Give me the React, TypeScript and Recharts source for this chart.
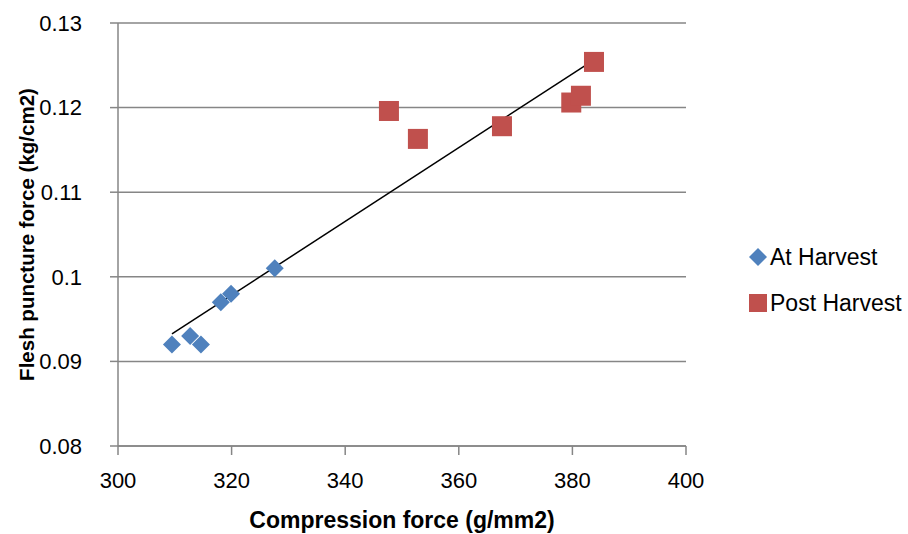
import { ScatterChart, Scatter, XAxis, YAxis, CartesianGrid, ReferenceLine } from 'recharts'

const atHarvestX = [309.5, 312.7, 314.6, 318.1, 319.9, 327.6]
const atHarvestY = [0.092, 0.093, 0.092, 0.097, 0.098, 0.101]
const postHarvestX = [347.7, 352.8, 367.6, 379.8, 381.5, 383.8]
const postHarvestY = [0.1196, 0.1163, 0.1178, 0.1206, 0.1214, 0.1254]
const xTicks = [300, 320, 340, 360, 380, 400]
const yTicks = [0.08, 0.09, 0.1, 0.11, 0.12, 0.13]

const BLUE = '#4F81BD'
const RED = '#C0504D'
const GRID = '#868686'
const FONT = '"Liberation Sans", Arial, sans-serif'

const atHarvest = atHarvestX.map((x, i) => ({ x, y: atHarvestY[i] }))
const postHarvest = postHarvestX.map((x, i) => ({ x, y: postHarvestY[i] }))

// linear trend over all points
const all = [...atHarvest, ...postHarvest]
const n = all.length
const mx = all.reduce((s, p) => s + p.x, 0) / n
const my = all.reduce((s, p) => s + p.y, 0) / n
const slope =
  all.reduce((s, p) => s + (p.x - mx) * (p.y - my), 0) / all.reduce((s, p) => s + (p.x - mx) ** 2, 0)
const xMin = Math.min(...all.map((p) => p.x))
const xMax = Math.max(...all.map((p) => p.x))
const trend = (x: number) => my + slope * (x - mx)

function Diamond({ cx, cy }: any) {
  const r = 9
  return <polygon points={`${cx},${cy - r} ${cx + r},${cy} ${cx},${cy + r} ${cx - r},${cy}`} fill={BLUE} />
}

function Square({ cx, cy }: any) {
  const h = 10
  return <rect x={cx - h} y={cy - h} width={h * 2} height={h * 2} fill={RED} />
}

function LegendBox() {
  const items = [
    { label: 'At Harvest', kind: 'diamond' },
    { label: 'Post Harvest', kind: 'square' },
  ]
  return (
    <div style={{ position: 'absolute', left: 747, top: 234, fontFamily: FONT, fontSize: 23, color: '#000' }}>
      {items.map((item) => (
        <div key={item.label} style={{ display: 'flex', alignItems: 'center', height: 46 }}>
          <svg width={22} height={22} style={{ marginRight: 1 }}>
            {item.kind === 'diamond' ? (
              <polygon points="11,2 20,11 11,20 2,11" fill={BLUE} />
            ) : (
              <rect x={2} y={2} width={18} height={18} fill={RED} />
            )}
          </svg>
          <span>{item.label}</span>
        </div>
      ))}
    </div>
  )
}

export default function App() {
  return (
    <div style={{ position: 'absolute', left: 0, top: 0, width: 908, height: 534, background: '#fff' }}>
      <ScatterChart width={908} height={534} margin={{ top: 23, right: 222, bottom: 0, left: 0 }}>
        <CartesianGrid horizontal vertical={false} stroke={GRID} strokeWidth={1.5} />
        <XAxis
          type="number"
          dataKey="x"
          domain={[300, 400]}
          ticks={xTicks}
          height={88}
          stroke={GRID}
          strokeWidth={1.5}
          tickSize={9}
          tickMargin={17}
          tick={{ fill: '#000', fontSize: 22, fontFamily: FONT }}
          label={{
            value: 'Compression force (g/mm2)',
            position: 'insideBottom',
            offset: 6,
            style: { fill: '#000', fontSize: 23, fontWeight: 'bold', fontFamily: FONT },
          }}
        />
        <YAxis
          type="number"
          dataKey="y"
          domain={[0.08, 0.13]}
          ticks={yTicks}
          width={118}
          stroke={GRID}
          strokeWidth={1.5}
          tickSize={8}
          tickMargin={28}
          tick={{ fill: '#000', fontSize: 22, fontFamily: FONT }}
          label={{
            value: 'Flesh puncture force (kg/cm2)',
            angle: -90,
            position: 'insideLeft',
            offset: 27,
            style: { textAnchor: 'middle', fill: '#000', fontSize: 20.5, fontWeight: 'bold', fontFamily: FONT },
          }}
        />
        <ReferenceLine
          segment={[
            { x: xMin, y: trend(xMin) },
            { x: xMax, y: trend(xMax) },
          ]}
          stroke="#000"
          strokeWidth={1.5}
        />
        <Scatter name="At Harvest" data={atHarvest} shape={Diamond} isAnimationActive={false} />
        <Scatter name="Post Harvest" data={postHarvest} shape={Square} isAnimationActive={false} />
      </ScatterChart>
      <LegendBox />
    </div>
  )
}
